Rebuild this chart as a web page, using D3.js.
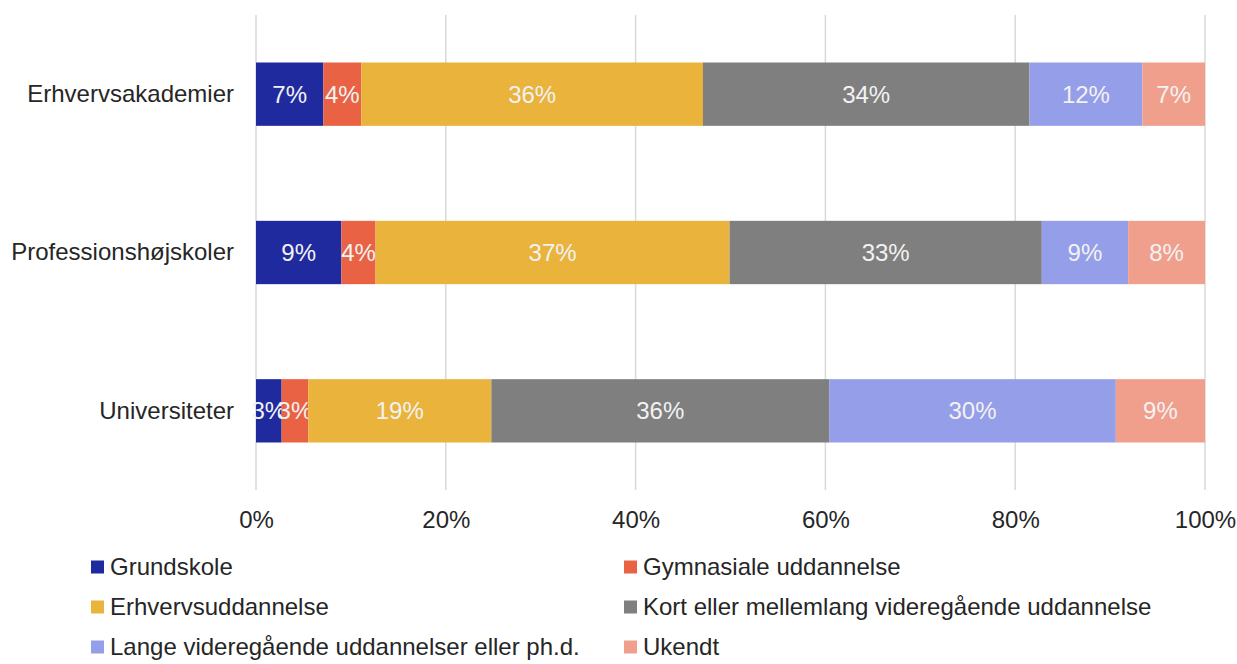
<!DOCTYPE html>
<html>
<head>
<meta charset="utf-8">
<script src="https://cdn.jsdelivr.net/npm/d3@7"></script>
<style>
  body { margin: 0; background: #fff; }
  text { font-family: "Liberation Sans", Arial, sans-serif; }
</style>
</head>
<body>
<div id="chart"></div>
<script>
// Chart data
const categories = ["Erhvervsakademier", "Professionshøjskoler", "Universiteter"];
const seriesNames = ["Grundskole", "Gymnasiale uddannelse", "Erhvervsuddannelse",
    "Kort eller mellemlang videregående uddannelse",
    "Lange videregående uddannelser eller ph.d.", "Ukendt"];
const grundskole = [7.1, 9.0, 2.7];
const gymnasiale = [4.0, 3.6, 2.8];
const erhvervsudd = [36.0, 37.3, 19.3];
const kortMellem = [34.4, 32.9, 35.6];
const langeVideregaaende = [11.9, 9.1, 30.2];
const ukendt = [6.6, 8.1, 9.4];
const seriesValues = [grundskole, gymnasiale, erhvervsudd, kortMellem, langeVideregaaende, ukendt];
const xTicks = [0, 20, 40, 60, 80, 100];

const colors = ["#202a9f", "#ea6244", "#e9b33c", "#7f7f7f", "#959ee8", "#f19f8d"];

const width = 1237, height = 664;
const margin = {top: 15, right: 32, bottom: 174, left: 256};
const FONT = "24px";

let svg = d3.select("#chart")
    .append("svg")
    .attr("width", width)
    .attr("height", height);

// x scale (percent)
let x = d3.scaleLinear()
    .domain([0, 100])
    .range([margin.left, width - margin.right]);

// y scale (categories)
let y = d3.scaleBand()
    .domain(categories)
    .range([margin.top, height - margin.bottom])
    .paddingInner(0.6)
    .paddingOuter(0.3);

// Gridlines
svg.append("g")
    .selectAll("line")
    .data(xTicks)
    .enter()
    .append("line")
    .attr("x1", d => x(d))
    .attr("x2", d => x(d))
    .attr("y1", margin.top)
    .attr("y2", height - margin.bottom)
    .style("stroke", "#d9d9d9")
    .style("stroke-width", 1.5);

// x axis labels
let xAxis = svg.append("g")
    .attr("transform", `translate(0, ${height - margin.bottom})`)
    .call(d3.axisBottom(x).tickValues(xTicks).tickFormat(d => d + "%").tickSize(0).tickPadding(21));
xAxis.select(".domain").remove();
xAxis.selectAll("text")
    .style("font-size", FONT)
    .style("fill", "#262626");

// y axis labels
let yAxis = svg.append("g")
    .attr("transform", `translate(${margin.left}, 0)`)
    .call(d3.axisLeft(y).tickSize(0).tickPadding(22));
yAxis.select(".domain").remove();
yAxis.selectAll("text")
    .style("font-size", FONT)
    .style("fill", "#262626");

// Stack the series
let rows = categories.map((c, i) => {
    let row = {category: c};
    seriesNames.forEach((s, j) => { row[s] = seriesValues[j][i]; });
    return row;
});
let stacked = d3.stack().keys(seriesNames)(rows);

let layers = svg.selectAll("g.layer")
    .data(stacked)
    .enter()
    .append("g")
    .attr("class", "layer")
    .style("fill", (d, i) => colors[i]);

layers.selectAll("rect")
    .data(d => d)
    .enter()
    .append("rect")
    .attr("x", d => x(d[0]))
    .attr("y", d => y(d.data.category))
    .attr("width", d => x(d[1]) - x(d[0]))
    .attr("height", y.bandwidth());

// Value labels
layers.selectAll("text")
    .data(d => d)
    .enter()
    .append("text")
    .attr("x", d => (x(d[0]) + x(d[1])) / 2)
    .attr("y", d => y(d.data.category) + y.bandwidth() / 2)
    .attr("dy", "0.35em")
    .style("text-anchor", "middle")
    .style("font-size", FONT)
    .style("fill", "#f2f2f2")
    .text(d => Math.round(d[1] - d[0]) + "%");

// Legend (two columns, three rows)
const legendX = [91, 624];
const legendY = [567, 607, 647];
let legend = svg.append("g")
    .selectAll("g")
    .data(seriesNames)
    .enter()
    .append("g")
    .attr("transform", (d, i) => `translate(${legendX[i % 2]}, ${legendY[Math.floor(i / 2)]})`);

legend.append("rect")
    .attr("x", 0)
    .attr("y", -6.5)
    .attr("width", 13)
    .attr("height", 13)
    .style("fill", (d, i) => colors[i]);

legend.append("text")
    .attr("x", 19)
    .attr("y", 0)
    .attr("dy", "0.35em")
    .style("font-size", FONT)
    .style("fill", "#262626")
    .text(d => d);
</script>
</body>
</html>
